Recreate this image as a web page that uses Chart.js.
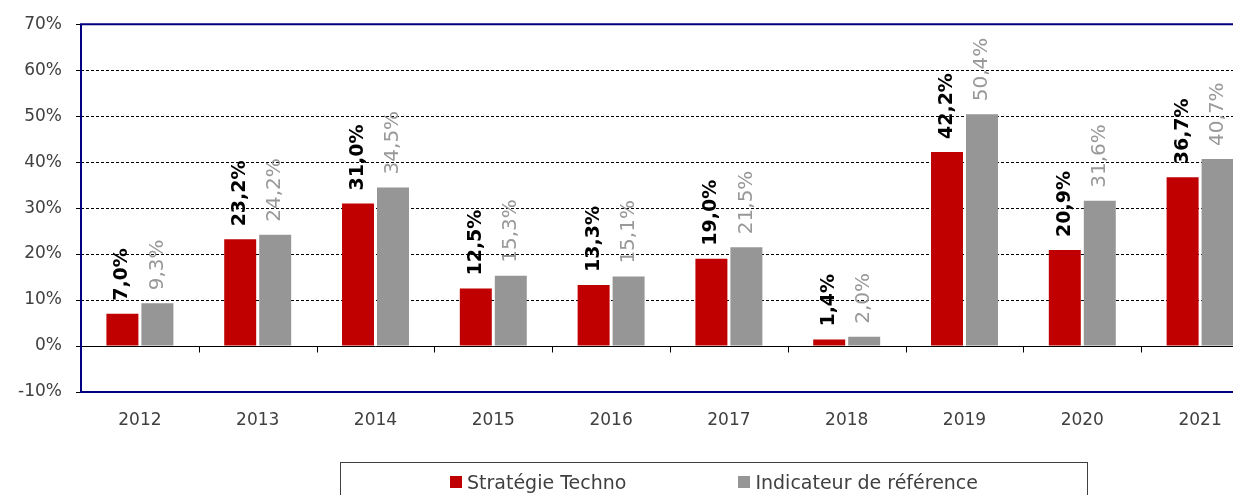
<!DOCTYPE html>
<html>
<head>
<meta charset="utf-8">
<script src="https://cdn.jsdelivr.net/npm/chart.js@4/dist/chart.umd.min.js"></script>
<style>
html,body{margin:0;padding:0;background:#fff;overflow:hidden;width:1233px;height:495px}
#wrap{position:relative;width:1262px;height:495px}
#legend{position:absolute;left:340px;top:462px;width:748px;height:40px;border:1px solid #404040;box-sizing:border-box;display:flex;justify-content:center;align-items:flex-start;gap:112px;padding-top:8px;font:19px "DejaVu Sans",sans-serif;color:#404040}
#legend span.it{display:flex;align-items:center}
#legend i{display:inline-block;width:12px;height:12px;margin-right:5px}
</style>
</head>
<body>
<div id="wrap"><canvas id="c" width="1262" height="495"></canvas><div id="legend"></div></div>
<script>
const years=['2012','2013','2014','2015','2016','2017','2018','2019','2020','2021'];
const strategie=[7.0,23.2,31.0,12.5,13.3,19.0,1.4,42.2,20.9,36.7];
const indicateur=[9.3,24.2,34.5,15.3,15.1,21.5,2.0,50.4,31.6,40.7];
const seriesNames=['Stratégie Techno','Indicateur de référence'];
const seriesColors=['#C00000','#969696'];
const labelColors=['#000','#999'];
const yTicks=[-10,0,10,20,30,40,50,60,70];

const fmt=v=>v.toFixed(1).replace('.',',')+'%';
const FONT='"DejaVu Sans", sans-serif';

// frame, dashed grid, zero line and its ticks
const framePlugin={id:'frame',
  beforeDatasetsDraw(chart){
    const {ctx,chartArea:a,scales:{x,y}}=chart;
    ctx.save();
    ctx.strokeStyle='#000';ctx.lineWidth=1;ctx.setLineDash([3,2]);
    yTicks.filter(v=>v>0&&v<70).forEach(v=>{const py=Math.round(y.getPixelForValue(v))+0.5;ctx.beginPath();ctx.moveTo(a.left,py);ctx.lineTo(a.right,py);ctx.stroke();});
    ctx.setLineDash([]);
    const z=Math.round(y.getPixelForValue(0))+0.5;
    ctx.beginPath();ctx.moveTo(a.left,z);ctx.lineTo(a.right,z);ctx.stroke();
    for(let i=0;i<years.length-1;i++){
      const bx=Math.round((x.getPixelForValue(i)+x.getPixelForValue(i+1))/2)+0.5;
      ctx.beginPath();ctx.moveTo(bx,z);ctx.lineTo(bx,z+6);ctx.stroke();
    }
    ctx.strokeStyle='#000080';ctx.lineWidth=2;
    ctx.beginPath();
    ctx.moveTo(a.right+5,a.top);ctx.lineTo(a.left,a.top);ctx.lineTo(a.left,a.bottom);ctx.lineTo(a.right+5,a.bottom);
    ctx.stroke();
    ctx.restore();
  },
  afterDatasetsDraw(chart){
    const {ctx}=chart;
    ctx.save();
    chart.data.datasets.forEach((ds,di)=>{
      chart.getDatasetMeta(di).data.forEach((bar,i)=>{
        ctx.save();
        ctx.translate(bar.x,bar.y-13);
        ctx.rotate(-Math.PI/2);
        ctx.font=(di===0?'bold 19px ':'20px ')+FONT;
        ctx.fillStyle=labelColors[di];
        ctx.textAlign='left';ctx.textBaseline='middle';
        ctx.fillText(fmt(ds.data[i]),0,0);
        ctx.restore();
      });
    });
    ctx.restore();
  }
};

const chart=new Chart(document.getElementById('c'),{
  type:'bar',
  data:{labels:years,datasets:[
    {label:seriesNames[0],data:strategie,backgroundColor:seriesColors[0]},
    {label:seriesNames[1],data:indicateur,backgroundColor:seriesColors[1]}
  ]},
  options:{
    responsive:false,animation:false,
    layout:{padding:{top:23,right:3,left:0,bottom:0}},
    categoryPercentage:0.594,barPercentage:0.914,
    plugins:{legend:{display:false},tooltip:{enabled:false}},
    scales:{
      x:{grid:{display:false,drawTicks:false},border:{display:false},
        ticks:{padding:18,color:'#404040',font:{family:FONT,size:17}},
        afterFit(s){s.height=495-392;}},
      y:{min:-10,max:70,
        afterBuildTicks(s){s.ticks=yTicks.map(v=>({value:v}));},
        grid:{drawOnChartArea:false,drawTicks:true,tickLength:5,tickColor:'#000'},
        border:{display:false},
        ticks:{padding:14,color:'#404040',font:{family:FONT,size:17},callback:v=>v+'%'},
        afterFit(s){s.width=81;}}
    }
  },
  plugins:[framePlugin]
});

document.getElementById('legend').innerHTML=chart.data.datasets.map(d=>`<span class="it"><i style="background:${d.backgroundColor}"></i>${d.label}</span>`).join('');
</script>
</body>
</html>
